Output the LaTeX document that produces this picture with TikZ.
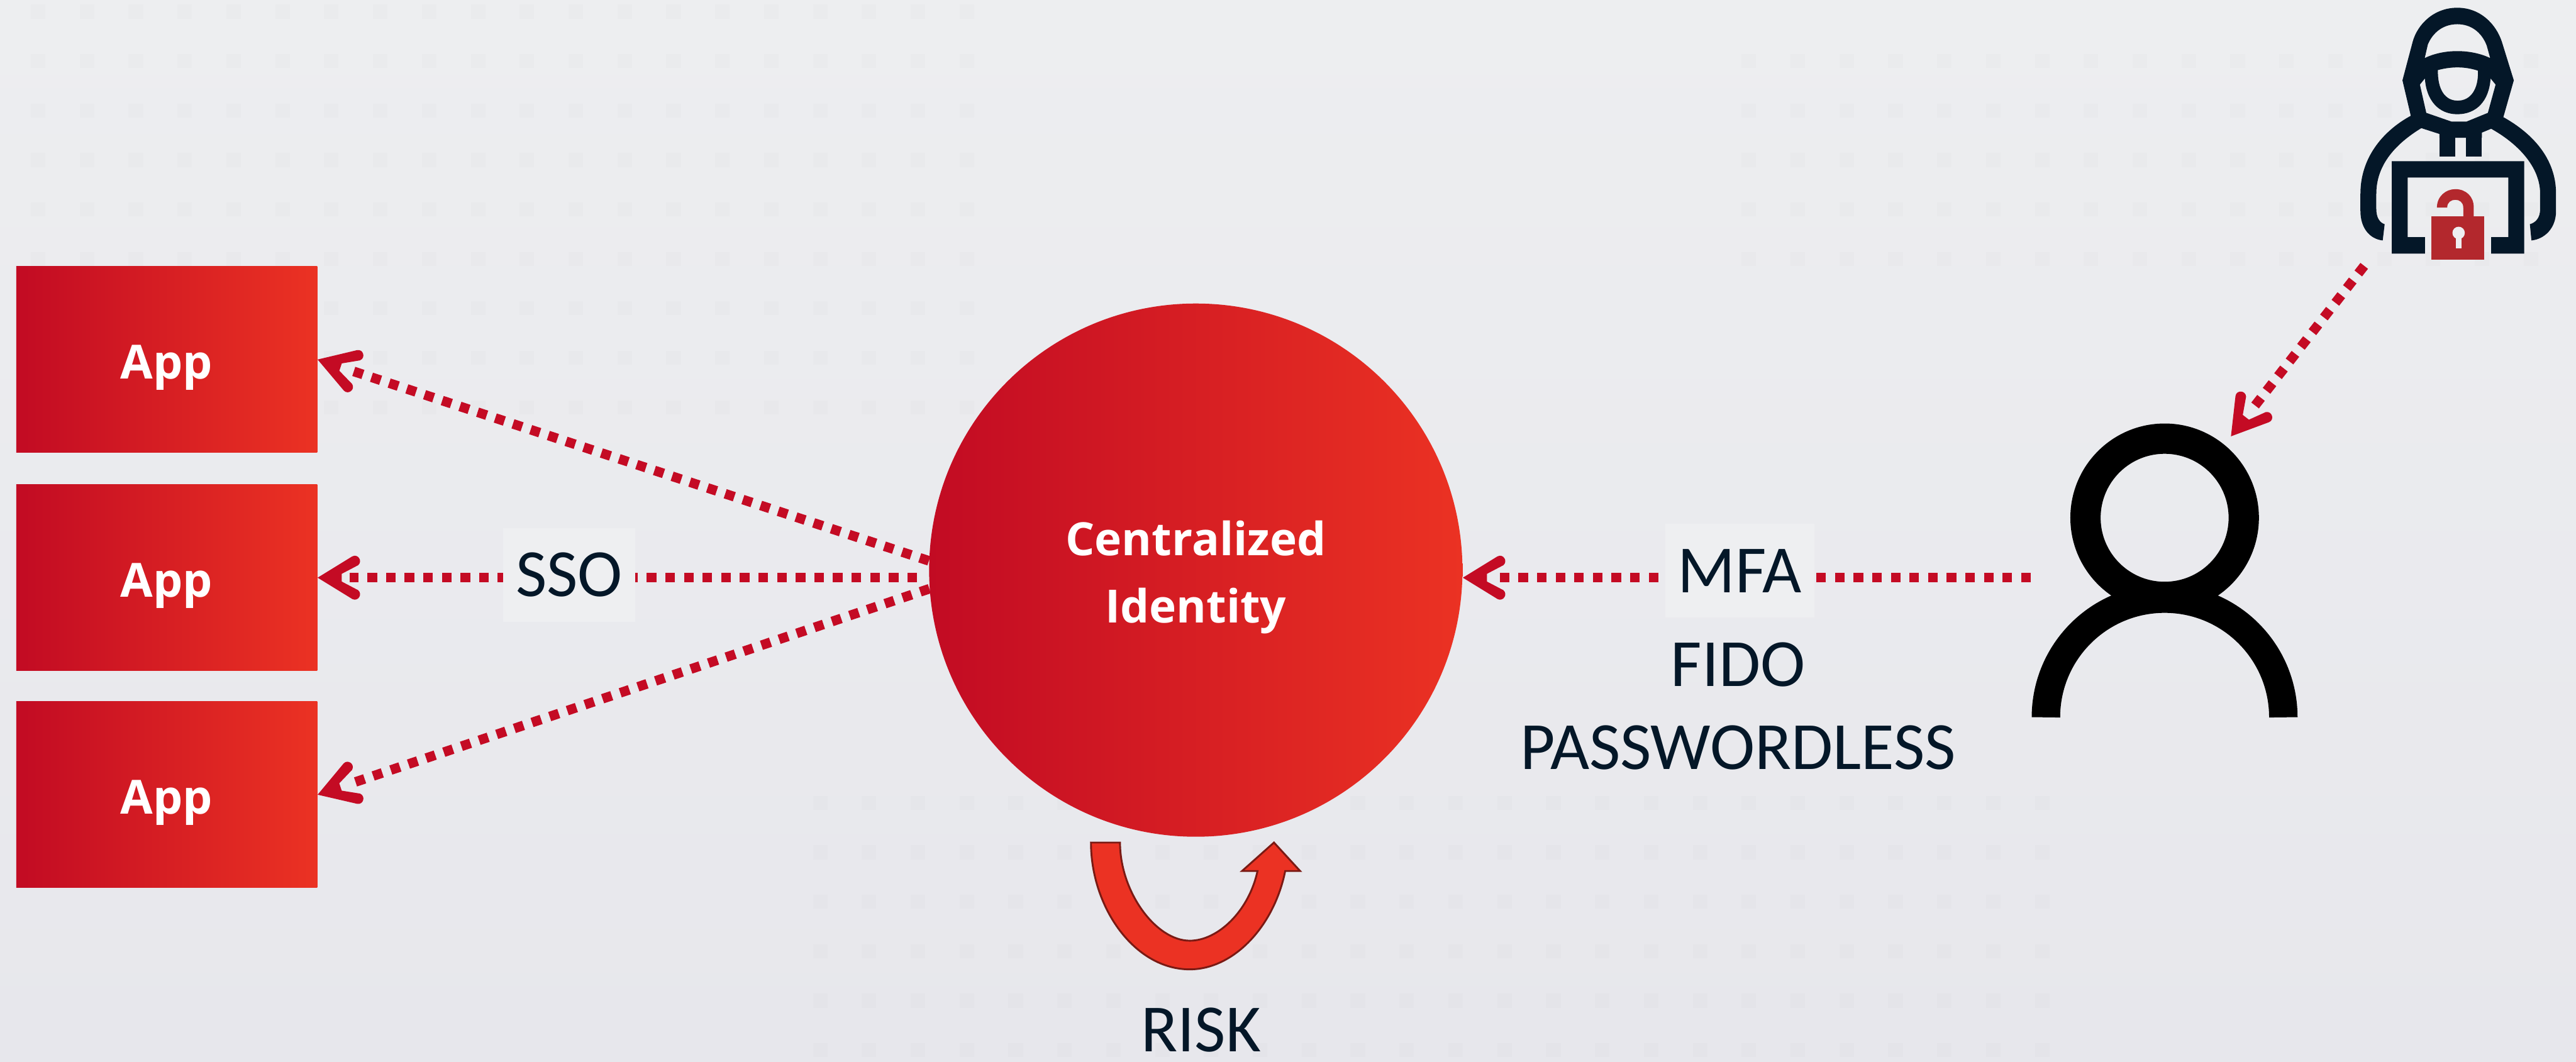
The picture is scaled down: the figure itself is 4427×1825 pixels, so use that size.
\documentclass[tikz,border=0pt]{standalone}
\usepackage{fontspec}
\setmainfont{Carlito}
\newfontfamily\boldface{Open Sans Bold}
\usetikzlibrary{arrows.meta}
\definecolor{redline}{HTML}{C40B24}
\definecolor{redL}{HTML}{C20B23}
\definecolor{redR}{HTML}{EB3223}
\definecolor{ink}{HTML}{041728}
\definecolor{lockred}{HTML}{B3282D}
\definecolor{bgtop}{HTML}{EDEEF0}
\definecolor{bgbot}{HTML}{E7E7EC}
\definecolor{labelbg}{HTML}{EEEFF1}
\definecolor{riskedge}{HTML}{7A1A14}
\pgfdeclarearrow{
  name=RedBarb,
  setup code={\pgfarrowssettipend{0pt}\pgfarrowssetlineend{-15.65pt}\pgfarrowssetbackend{-21.62pt}\pgfarrowssetvisualbackend{-11.8pt}},
  drawing code={
    \pgfpathmoveto{\pgfqpoint{0pt}{0pt}}
    \pgfpathlineto{\pgfqpoint{-16.9pt}{10.4pt}}
    \pgfpathcurveto{\pgfqpoint{-19.6pt}{11.9pt}}{\pgfqpoint{-22.2pt}{8.2pt}}{\pgfqpoint{-19.8pt}{6.1pt}}
    \pgfpathlineto{\pgfqpoint{-11.8pt}{1.9pt}}
    \pgfpathlineto{\pgfqpoint{-11.8pt}{-1.9pt}}
    \pgfpathlineto{\pgfqpoint{-19.8pt}{-6.1pt}}
    \pgfpathcurveto{\pgfqpoint{-22.2pt}{-8.2pt}}{\pgfqpoint{-19.6pt}{-11.9pt}}{\pgfqpoint{-16.9pt}{-10.4pt}}
    \pgfpathclose
    \pgfusepathqfill
  }
}
\tikzset{
  x=0.01cm,y=-0.01cm,
  appbox/.style={rectangle,draw=none,minimum width=5.17cm,minimum height=3.2cm,inner sep=0pt,left color=redL,right color=redR,text=white,font=\boldface\fontsize{23}{33}\selectfont,align=center},
  hub/.style={circle,draw=none,minimum size=9.16cm,inner sep=0pt,left color=redL,right color=redR,text=white,font=\boldface\fontsize{22.4}{33}\selectfont,align=center},
  flow/.style={color=redline,line width=4.7pt,dash pattern=on 4.7pt off 4.4pt,-{RedBarb}},
  tag/.style={fill=labelbg,inner sep=0pt,minimum width=2.26cm,minimum height=1.61cm,text=ink,font=\fontsize{33}{41}\selectfont},
  plain/.style={inner sep=0pt,text=ink,font=\fontsize{33}{40.4}\selectfont,align=center},
}
\begin{document}
\begin{tikzpicture}
\useasboundingbox (0,0) rectangle (4427,1825);
\fill[top color=bgtop,bottom color=bgbot] (0,0) rectangle (4427,1825);

% faint dot texture of the backdrop
\foreach \xa/\xb/\ya/\yb in {0/19/0/8, 35/51/1/5, 16/41/16/21}{
  \foreach \i in {\xa,...,\xb}{
    \foreach \j in {\ya,...,\yb}{
      \fill[black,opacity=0.012] (53+84*\i,8+85*\j) rectangle ++(25,24);
    }
  }
}

\node[appbox] (app1) at (286.5,618) {\rule{0pt}{24.4pt}App};
\node[appbox] (app2) at (286.5,993) {\rule{0pt}{24.4pt}App};
\node[appbox] (app3) at (286.5,1366) {\rule{0pt}{24.4pt}App};
\node[hub] (hub) at (2055,980) {\rule{0pt}{24pt}Centralized\\Identity};

\coordinate (hubM) at (1576,993);
\coordinate (userL) at (3490,993);
\coordinate (userT) at (3834,750);
\coordinate (hackS) at (4063,457);

\draw[flow] (hub.178.4) -- (app1.east);
\draw[flow] (hubM) -- (app2.east);
\draw[flow] (hub.184.8) -- (app3.east);
\draw[flow] (userL) -- (hub.east |- userL);
\draw[flow] (hackS) -- (userT);

\node[tag] (sso) at (978,988) {SSO};
\node[tag,minimum width=2.57cm] (mfa) at (2990,981) {MFA};
\node[plain] (fido) at (2987,1214) {FIDO\\PASSWORDLESS};
\node[plain] (risk) at (2064,1770) {RISK};

% user icon
\draw[black,line width=14.8pt] (3720,890) circle [radius=136];
\draw[black,line width=13.9pt] (3516,1233) arc [start angle=180,end angle=0,x radius=204,y radius=-204];

% risk arrow
\begin{scope}[shift={(1800,1400)},x=0.003333cm,y=-0.003333cm]
\path[fill=redR,draw=riskedge,line width=0.9pt,line join=miter]
 (225,145) -- (375,145) .. controls (375,400) and (560,652) .. (735,652)
 .. controls (880,652) and (1040,500) .. (1085,292) -- (1005,292) -- (1170,145) -- (1305,292) -- (1228,292)
 .. controls (1170,580) and (960,800) .. (735,800) .. controls (450,800) and (225,480) .. (225,145) -- cycle;
\end{scope}

% attacker icon
\begin{scope}[shift={(3950,0)},x=0.003333cm,y=-0.003333cm]
\fill[ink,even odd rule]
 (580,598) -- (537,415) -- (590,215) .. controls (615,125) and (700,40) .. (820,40) .. controls (940,40) and (1020,125) .. (1050,215) -- (1112,415) -- (1058,605) -- (995,665) -- (947,685) -- (947,712) -- (728,712) -- (728,692) -- (635,662) -- cycle
 (652,300) -- (668,230) .. controls (695,165) and (750,125) .. (820,125) .. controls (890,125) and (945,165) .. (972,235) -- (990,300) .. controls (890,252) and (750,252) .. (652,300) -- cycle
 (720,362) .. controls (790,343) and (860,343) .. (927,365) .. controls (930,460) and (890,520) .. (822,520) .. controls (755,520) and (718,460) .. (720,362) -- cycle
 (627,437) -- (653,405) .. controls (660,520) and (725,590) .. (820,590) .. controls (920,590) and (985,520) .. (992,405) -- (1018,437) -- (978,583) -- (868,628) -- (790,628) -- (660,583) -- cycle;
\fill[ink] (728,680) rectangle (810,810);
\fill[ink] (864,680) rectangle (947,810);
\fill[ink] (580,598) .. controls (430,680) and (320,820) .. (320,1000) -- (320,1090) .. controls (320,1180) and (370,1235) .. (435,1242) -- (445,1158) .. controls (420,1150) and (402,1125) .. (402,1080) -- (402,1000) .. controls (402,860) and (490,750) .. (634,662) -- (640,620) -- cycle;
\fill[ink] (1058,605) .. controls (1210,690) and (1330,820) .. (1330,1000) -- (1330,1090) .. controls (1330,1180) and (1270,1235) .. (1203,1242) -- (1195,1158) .. controls (1225,1150) and (1248,1125) .. (1248,1080) -- (1248,1000) .. controls (1248,860) and (1130,740) .. (995,665) -- (985,625) -- cycle;
\fill[ink] (482,833) -- (1166,833) -- (1166,1310) -- (995,1310) -- (995,1225) -- (1084,1225) -- (1084,917) -- (564,917) -- (564,1225) -- (653,1225) -- (653,1310) -- (482,1310) -- cycle;
\fill[lockred] (687,1117) rectangle (960,1340);
\fill[lockred] (715,1072) .. controls (715,1015) and (760,977) .. (810,977) .. controls (865,977) and (905,1015) .. (905,1070) -- (905,1120) -- (851,1120) -- (851,1072) .. controls (851,1045) and (832,1032) .. (810,1032) .. controls (788,1032) and (768,1045) .. (768,1072) -- cycle;
\fill[labelbg] (827,1203) circle [radius=32];
\fill[labelbg] (813,1215) rectangle (841,1283);
\end{scope}
\end{tikzpicture}
\end{document}
